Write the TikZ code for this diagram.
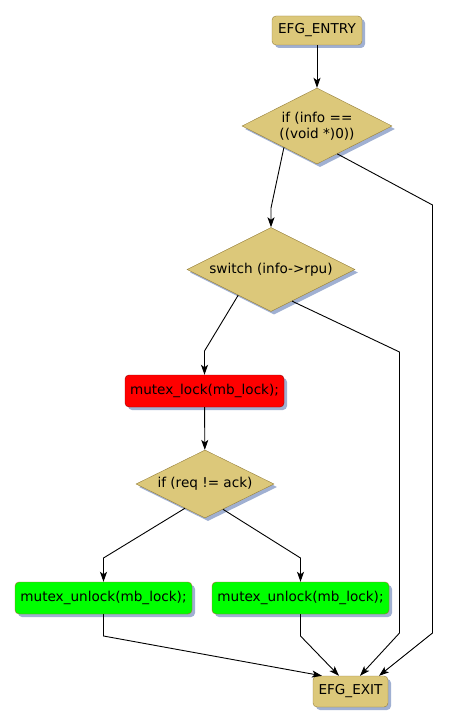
\documentclass[tikz,border=0pt]{standalone}
\usepackage{fontspec}
\setmainfont{DejaVu Sans}
\usetikzlibrary{shapes.geometric,arrows.meta,shadows,calc}
\definecolor{efgtan}{RGB}{220,200,122}
\definecolor{efgedge}{RGB}{150,128,60}
\definecolor{efgshadow}{RGB}{160,176,210}
\definecolor{lockred}{RGB}{255,0,0}
\definecolor{lockgreen}{RGB}{0,255,0}
\tikzset{
  efgshade/.style={drop shadow={shadow xshift=3pt,shadow yshift=-3pt,fill=efgshadow,opacity=1}},
  efgbox/.style={draw=efgedge,fill=efgtan,rounded corners=4pt,inner sep=0pt,
    minimum height=30pt,efgshade,font=\fontsize{13.6}{16}\selectfont},
  efgtest/.style={diamond,aspect=2,draw=efgedge,fill=efgtan,inner sep=0pt,
    align=center,efgshade,font=\fontsize{13.6}{16}\selectfont},
  flow/.style={line width=0.9pt,-{Stealth[length=10pt,width=7pt,inset=2.5pt]}},
}
\begin{document}
\begin{tikzpicture}[x=1pt,y=-1pt]
\useasboundingbox (0,0) rectangle (448,725);
% nodes
\node[efgbox,minimum width=90pt,minimum height=29pt] (entry) at (317,30.5) {EFG\_ENTRY};
\node[efgtest,minimum width=150pt,minimum height=76pt] (info) at (317,126) {if (info ==\\((void *)0))};
\node[efgtest,minimum width=168pt,minimum height=84pt] (rpu) at (271,269.5) {switch (info->rpu)};
\node[efgbox,fill=lockred,draw=lockred!60!black,minimum width=159pt,minimum height=32pt] (lock) at (204.5,391) {mutex\_lock(mb\_lock);};
\node[efgtest,minimum width=138pt,minimum height=68pt] (ack) at (205,484) {if (req != ack)};
\node[efgbox,fill=lockgreen,draw=efgedge!80!red,minimum width=177pt,minimum height=32pt] (unlockA) at (103.5,598) {mutex\_unlock(mb\_lock);};
\node[efgbox,fill=lockgreen,draw=efgedge!80!red,minimum width=177pt,minimum height=32pt] (unlockB) at (300.5,598) {mutex\_unlock(mb\_lock);};
\node[efgbox,minimum width=75pt,minimum height=31pt] (exit) at (350.5,691.5) {EFG\_EXIT};
% bend points
\coordinate (infoL) at (271,208);
\coordinate (infoR) at (432.5,205);
\coordinate (infoD) at (432.5,633);
\coordinate (rpuL) at (204.5,351);
\coordinate (rpuR) at (399.5,352);
\coordinate (rpuD) at (399.5,633);
\coordinate (ackL) at (103.5,558);
\coordinate (ackR) at (300.5,558);
\coordinate (unlockAD) at (103.5,636);
\coordinate (unlockBD) at (300.5,636);
% edges
\draw[flow] (entry) -- (info);
\draw[flow] ($(info.south)!0.44!(info.west)$) -- (infoL) -- (rpu.north);
\draw[flow] ($(info.south)!0.27!(info.east)$) -- (infoR) -- (infoD) -- ($(exit.north)+(28.5,0)$);
\draw[flow] ($(rpu.south)!0.39!(rpu.west)$) -- (rpuL) -- (lock.north);
\draw[flow] ($(rpu.south)!0.25!(rpu.east)$) -- (rpuR) -- (rpuD) -- ($(exit.north)+(9.5,0)$);
\draw[flow] (lock) -- (ack);
\draw[flow] ($(ack.south)!0.29!(ack.west)$) -- (ackL) -- (unlockA.north);
\draw[flow] ($(ack.south)!0.26!(ack.east)$) -- (ackR) -- (unlockB.north);
\draw[flow] (unlockA.south) -- (unlockAD) -- ($(exit.north)+(-28.5,0)$);
\draw[flow] (unlockB.south) -- (unlockBD) -- ($(exit.north)+(-11.5,0)$);
\end{tikzpicture}
\end{document}
